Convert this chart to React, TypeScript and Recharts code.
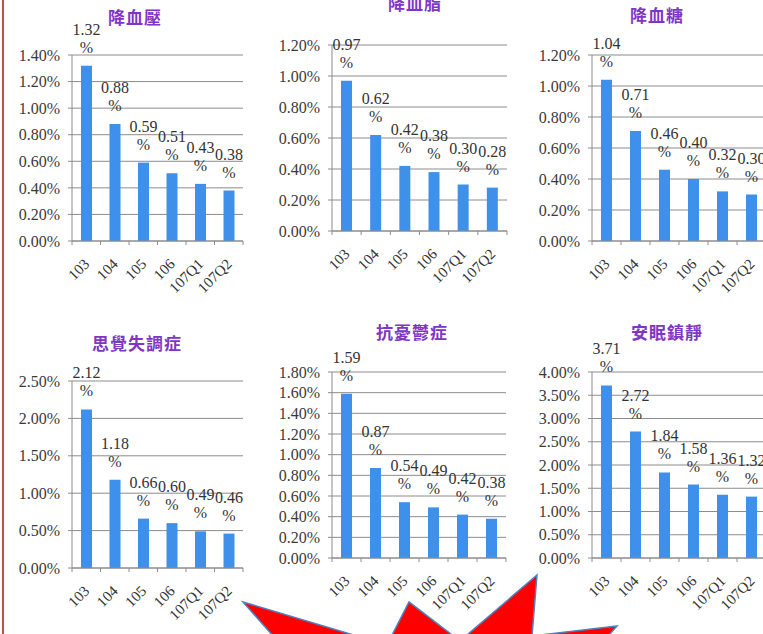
import React from "react";
import {
  BarChart,
  Bar,
  XAxis,
  YAxis,
  CartesianGrid,
  LabelList,
} from "recharts";

const categories = ["103", "104", "105", "106", "107Q1", "107Q2"];

const bloodPressure = [1.32, 0.88, 0.59, 0.51, 0.43, 0.38];
const bloodLipid = [0.97, 0.62, 0.42, 0.38, 0.3, 0.28];
const bloodSugar = [1.04, 0.71, 0.46, 0.4, 0.32, 0.3];
const schizophrenia = [2.12, 1.18, 0.66, 0.6, 0.49, 0.46];
const antidepressant = [1.59, 0.87, 0.54, 0.49, 0.42, 0.38];
const sedative = [3.71, 2.72, 1.84, 1.58, 1.36, 1.32];

const ticks14 = [0, 0.2, 0.4, 0.6, 0.8, 1.0, 1.2, 1.4];
const ticks12 = [0, 0.2, 0.4, 0.6, 0.8, 1.0, 1.2];
const ticks25 = [0, 0.5, 1.0, 1.5, 2.0, 2.5];
const ticks18 = [0, 0.2, 0.4, 0.6, 0.8, 1.0, 1.2, 1.4, 1.6, 1.8];
const ticks40 = [0, 0.5, 1.0, 1.5, 2.0, 2.5, 3.0, 3.5, 4.0];

const SERIF = "'Liberation Serif', 'Times New Roman', serif";
const GRID = "#8c8c8c";
const BAR = "#3f90ea";

interface PanelProps {
  title: string;
  values: number[];
  ticks: number[];
  plotLeft: number;
  plotTop: number;
  plotWidth: number;
  plotHeight: number;
  titleX: number;
  titleY: number;
}

const Panel: React.FC<PanelProps> = ({
  title,
  values,
  ticks,
  plotLeft,
  plotTop,
  plotWidth,
  plotHeight,
  titleX,
  titleY,
}) => {
  const data = categories.map((c, i) => ({ name: c, value: values[i] }));
  const yw = 62;
  const mt = 45;
  const xh = 60;
  const mr = 4;
  const bw = plotWidth / categories.length;

  const renderTick = (props: any) => {
    const { x, y, payload, index } = props;
    const last = index === categories.length - 1;
    const ax = x + 4;
    const ay = y + 24;
    return (
      <g>
        <line x1={x - bw / 2} x2={x - bw / 2} y1={y} y2={y + 4} stroke={GRID} />
        {last && (
          <line x1={x + bw / 2} x2={x + bw / 2} y1={y} y2={y + 4} stroke={GRID} />
        )}
        <text
          x={ax}
          y={ay}
          textAnchor="end"
          fontFamily={SERIF}
          fontSize={15}
          fill="#333"
          transform={`rotate(-45 ${ax} ${ay})`}
        >
          {payload.value}
        </text>
      </g>
    );
  };

  const renderLabel = (props: any) => {
    const { x, y, width, value } = props;
    const cx = x + width / 2;
    return (
      <g>
        <text x={cx} y={y - 31} textAnchor="middle" fontFamily={SERIF} fontSize={16} fill="#333">
          {Number(value).toFixed(2)}
        </text>
        <text x={cx} y={y - 13} textAnchor="middle" fontFamily={SERIF} fontSize={16} fill="#333">
          %
        </text>
      </g>
    );
  };

  return (
    <>
      <div
        style={{
          position: "absolute",
          left: titleX - 90,
          top: titleY - 12,
          width: 180,
          textAlign: "center",
          fontFamily: "'Noto Sans CJK TC', sans-serif",
          fontWeight: 700,
          fontSize: 17,
          lineHeight: "24px",
          letterSpacing: 1,
          color: "#8036c4",
        }}
      >
        {title}
      </div>
      <div style={{ position: "absolute", left: plotLeft - yw, top: plotTop - mt }}>
        <BarChart
          width={yw + plotWidth + mr}
          height={mt + plotHeight + xh}
          data={data}
          margin={{ top: mt, right: mr, bottom: 0, left: 0 }}
          barSize={11}
        >
          <CartesianGrid vertical={false} stroke={GRID} />
          <XAxis
            dataKey="name"
            height={xh}
            interval={0}
            axisLine={{ stroke: GRID }}
            tickLine={false}
            tickSize={0}
            tickMargin={0}
            tick={renderTick}
          />
          <YAxis
            width={yw}
            domain={[0, ticks[ticks.length - 1]]}
            ticks={ticks}
            interval={0}
            axisLine={{ stroke: GRID }}
            tickLine={{ stroke: GRID }}
            tickSize={4}
            tickMargin={8}
            tickFormatter={(v: number) => v.toFixed(2) + "%"}
            tick={{ fontFamily: SERIF, fontSize: 16, fill: "#3a3a3a" }}
          />
          <Bar dataKey="value" fill={BAR} isAnimationActive={false}>
            <LabelList dataKey="value" content={renderLabel} />
          </Bar>
        </BarChart>
      </div>
    </>
  );
};

export default function App() {
  return (
    <div
      style={{
        position: "absolute",
        left: 0,
        top: 0,
        width: 763,
        height: 634,
        overflow: "hidden",
        background: "#fff",
      }}
    >
      <div
        style={{
          position: "absolute",
          left: 2,
          top: 0,
          width: 2,
          height: 634,
          background: "#c0504d",
        }}
      />
      <Panel title="降血壓" values={bloodPressure} ticks={ticks14}
        plotLeft={72} plotTop={55} plotWidth={171} plotHeight={186} titleX={135} titleY={17} />
      <Panel title="降血脂" values={bloodLipid} ticks={ticks12}
        plotLeft={332} plotTop={45} plotWidth={175} plotHeight={186} titleX={415} titleY={3} />
      <Panel title="降血糖" values={bloodSugar} ticks={ticks12}
        plotLeft={592} plotTop={55} plotWidth={174} plotHeight={186} titleX={657} titleY={15} />
      <Panel title="思覺失調症" values={schizophrenia} ticks={ticks25}
        plotLeft={72} plotTop={381} plotWidth={171} plotHeight={187} titleX={137} titleY={343} />
      <Panel title="抗憂鬱症" values={antidepressant} ticks={ticks18}
        plotLeft={332} plotTop={372} plotWidth={174} plotHeight={186} titleX={412} titleY={332} />
      <Panel title="安眠鎮靜" values={sedative} ticks={ticks40}
        plotLeft={592} plotTop={372} plotWidth={174} plotHeight={186} titleX={667} titleY={332} />
      <svg
        width={763}
        height={634}
        style={{ position: "absolute", left: 0, top: 0, pointerEvents: "none" }}
      >
        <polygon
          points="243,602 387,645 409,602 460,641 537,575 532,636 617,626 560,690 330,700"
          fill="#ff0000"
          stroke="#4f81bd"
          strokeWidth={1.5}
        />
      </svg>
    </div>
  );
}
